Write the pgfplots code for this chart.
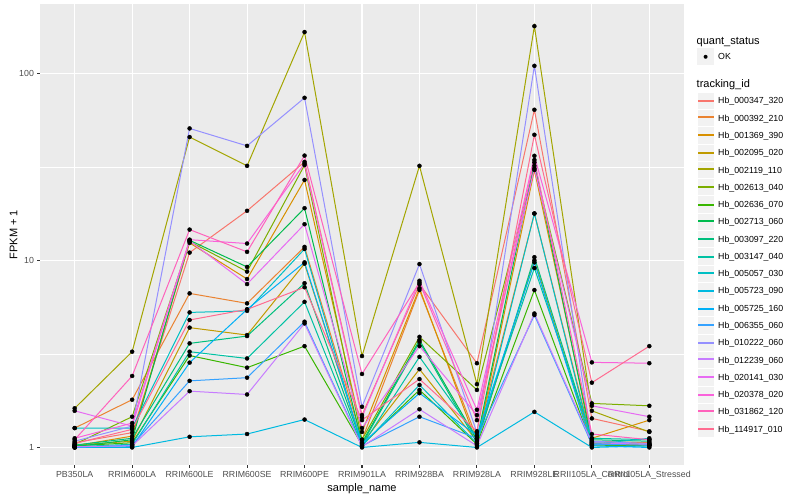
\documentclass[border=0pt]{standalone}
\usepackage{fontspec}
\setmainfont{Liberation Sans}
\usepackage{pgfplots}
\pgfplotsset{compat=1.18}
\usepackage{pgfplotstable}

\definecolor{panel}{HTML}{EBEBEB}
\definecolor{keybg}{HTML}{F2F2F2}
\definecolor{tickc}{HTML}{333333}
\definecolor{labc}{HTML}{4D4D4D}
\definecolor{c1}{HTML}{F8766D}
\definecolor{c2}{HTML}{EA8331}
\definecolor{c3}{HTML}{D89000}
\definecolor{c4}{HTML}{C09B00}
\definecolor{c5}{HTML}{A3A500}
\definecolor{c6}{HTML}{7CAE00}
\definecolor{c7}{HTML}{39B600}
\definecolor{c8}{HTML}{00BB4E}
\definecolor{c9}{HTML}{00BF7D}
\definecolor{c10}{HTML}{00C1A3}
\definecolor{c11}{HTML}{00BFC4}
\definecolor{c12}{HTML}{00BAE0}
\definecolor{c13}{HTML}{00B0F6}
\definecolor{c14}{HTML}{35A2FF}
\definecolor{c15}{HTML}{9590FF}
\definecolor{c16}{HTML}{C77CFF}
\definecolor{c17}{HTML}{E76BF3}
\definecolor{c18}{HTML}{FA62DB}
\definecolor{c19}{HTML}{FF62BC}
\definecolor{c20}{HTML}{FF6C91}

% FPKM + 1 per sample (rows) and tracking_id (columns s1..s20)
\pgfplotstableread{
x  s1   s2   s3   s4   s5    s6   s7   s8   s9   s10  s11  s12   s13  s14  s15   s16  s17  s18  s19  s20
0  1.06 1.27 1.02 1.03 1.62  1.04 1.02 1.01 1.03 1.01 1.27 1.00  1.00 1.00 1.08  1.01 1.57 1.12 1.10 1.05
1  1.20 1.80 1.15 1.08 3.25  1.46 1.06 1.10 1.12 1.04 1.27 1.00  1.01 1.03 1.30  1.02 1.30 1.35 2.41 1.25
2  11.0 6.66 12.4 4.37 45.6  12.6 3.10 12.8 3.60 3.25 5.27 1.14  2.84 2.27 50.7  2.00 12.7 12.9 14.6 4.80
3  18.4 5.89 7.95 3.99 32.0  8.71 2.67 9.22 3.94 2.99 5.37 1.18  5.47 2.36 40.9  1.92 7.47 12.3 11.1 5.47
4  33.6 11.8 26.9 9.60 166   32.3 3.48 19.0 7.55 6.00 11.5 1.41  9.76 4.70 73.9  4.60 15.6 32.9 36.3 7.18
5  1.49 1.10 1.21 1.05 3.08  1.10 1.03 1.06 1.04 1.02 1.02 1.00  1.05 1.02 1.65  1.01 1.27 1.45 2.47 1.40
6  7.45 6.94 7.10 2.62 32.0  3.90 2.03 3.75 3.67 3.05 2.16 1.065 1.95 1.46 9.55  1.60 3.48 7.78 7.60 2.32
7  2.82 1.12 1.05 1.08 2.18  2.03 1.04 1.10 1.06 1.14 1.05 1.00  1.16 1.12 1.20  1.02 1.49 1.59 1.40 1.22
8  63.8 17.8 30.4 10.0 178.5 32.0 6.94 33.4 10.4 9.10 17.8 1.55  9.76 5.10 109.5 5.20 31.0 36.2 34.4 46.9
9  1.43 1.08 1.12 1.05 1.57  1.72 1.03 1.06 1.10 1.12 1.04 1.00  1.02 1.04 1.08  1.06 1.67 2.85 1.18 2.22
10 1.22 1.06 1.40 1.03 1.21  1.67 1.02 1.04 1.08 1.10 1.12 1.02  1.00 1.03 1.05  1.04 1.46 2.82 1.10 3.48
}\fpkm

\begin{document}
\begin{tikzpicture}
\useasboundingbox (0,0) rectangle (800pt,500pt);
\begin{axis}[
  at={(40.2pt,35pt)}, anchor=south west,
  scale only axis, width=643.6pt, height=460.5pt,
  ymode=log, ymin=0.806, ymax=233,
  xmin=-0.6, xmax=10.6,
  xtick={0,...,10},
  xticklabels={PB350LA,RRIM600LA,RRIM600LE,RRIM600SE,RRIM600PE,RRIM901LA,RRIM928BA,RRIM928LA,RRIM928LE,RRII105LA\_Control,RRII105LA\_Stressed},
  ytick={1,10,100}, yticklabels={1,10,100},
  minor ytick={3.1623,31.623},
  grid=both,
  major grid style={white, line width=1.07pt},
  minor grid style={white, line width=0.53pt},
  axis background/.style={fill=panel},
  axis line style={draw=none},
  tick pos=left, tick align=outside,
  major tick length=2.75pt, minor tick length=0pt,
  tick style={color=tickc, line width=1.07pt},
  /pgf/number format/assume math mode=true,
  tick label style={font=\fontsize{8.8}{10}\selectfont, text=labc},
  xlabel={sample\_name}, ylabel={FPKM + 1},
  label style={font=\fontsize{11}{13}\selectfont},
  xlabel style={at={(axis description cs:0.5,-0.0565)}, anchor=base},
  ylabel style={at={(axis description cs:-0.0356,0.5)}, anchor=base},
]
\pgfplotsinvokeforeach{1,...,20}{
  \addplot[c#1, line width=1pt] table[x=x, y=s#1] {\fpkm};
}
\pgfplotsinvokeforeach{1,...,20}{
  \addplot[only marks, mark=*, mark size=2pt, black, forget plot] table[x=x, y=s#1] {\fpkm};
}
\end{axis}

% legend
\node[anchor=base west, inner sep=0pt, font=\fontsize{11}{13}\selectfont] at (696.5pt,455.5pt) {quant\_status};
\fill[keybg] (697pt,434.6pt) rectangle (714.3pt,451.9pt);
\fill[black] (705.6pt,443.2pt) circle (2pt);
\node[anchor=base west, inner sep=0pt, font=\fontsize{8.8}{10}\selectfont] at (718pt,440pt) {OK};
\node[anchor=base west, inner sep=0pt, font=\fontsize{11}{13}\selectfont] at (696.5pt,412pt) {tracking\_id};
\foreach \n/\id in {1/000347\_320,2/000392\_210,3/001369\_390,4/002095\_020,5/002119\_110,
  6/002613\_040,7/002636\_070,8/002713\_060,9/003097\_220,10/003147\_040,
  11/005057\_030,12/005723\_090,13/005725\_160,14/006355\_060,15/010222\_060,
  16/012239\_060,17/020141\_030,18/020378\_020,19/031862\_120,20/114917\_010}{
  \pgfmathsetmacro{\cy}{500-(100.7+17.28*(\n-1))}
  \pgfmathsetmacro{\ly}{500-(2*floor((100.7+17.28*(\n-1))/2)+1)}
  \fill[keybg, draw=white, line width=0.5pt] (697pt,\cy pt-8.64pt) rectangle (714.28pt,\cy pt+8.64pt);
  \draw[c\n, line width=2pt] (698pt,\ly pt) -- (714pt,\ly pt);
  \node[anchor=base west, inner sep=0pt, font=\fontsize{8.8}{10}\selectfont] at (718pt,\cy pt-3.2pt) {Hb\_\id};
}
\end{tikzpicture}
\end{document}
